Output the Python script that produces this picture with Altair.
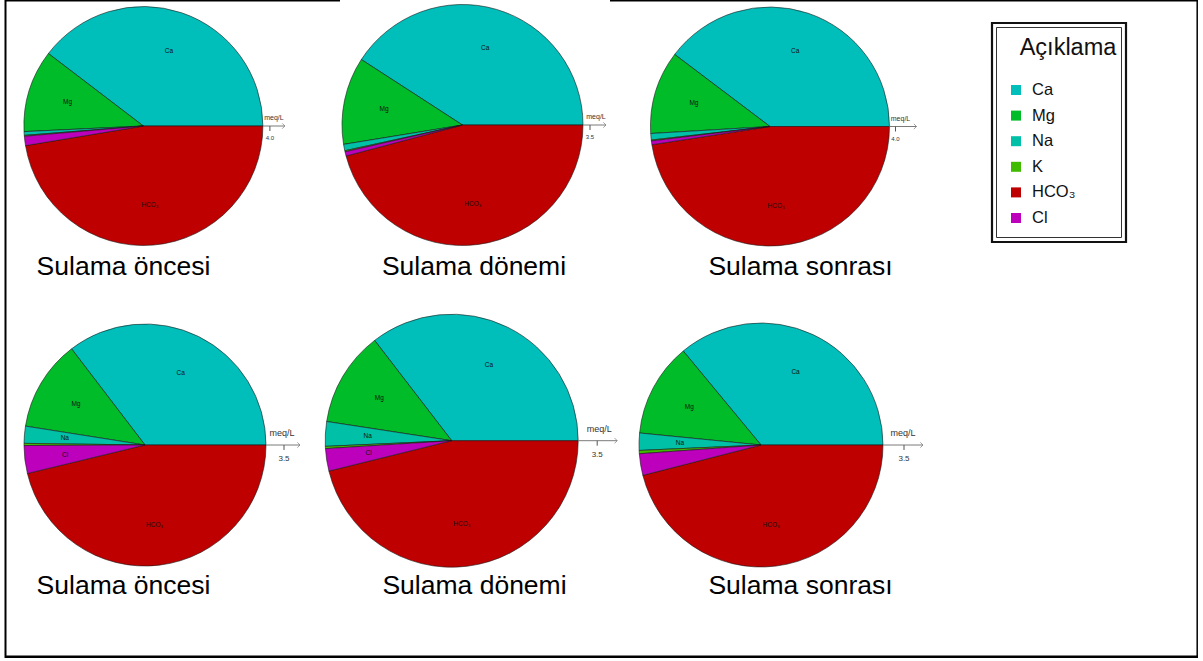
import altair as alt
import pandas as pd

# ---------------- data ----------------
panels = ["TL", "TM", "TR", "BL", "BM", "BR"]
panel_col = [0, 1, 2, 0, 1, 2]
panel_row = [0, 0, 0, 1, 1, 1]
captions = ["Sulama öncesi", "Sulama dönemi", "Sulama sonrası",
            "Sulama öncesi", "Sulama dönemi", "Sulama sonrası"]
scale_labels = ["4.0", "3.5", "4.0", "3.5", "3.5", "3.5"]

ions = ["Ca", "Mg", "Na", "K", "HCO₃", "Cl"]          # legend order
ion_colors = ["#00BEBA", "#00BC28", "#00C0A8", "#40BC00", "#BE0000", "#BC00BC"]
draw_order = ["HCO₃", "Cl", "K", "Na", "Mg", "Ca"]     # clockwise from 3 o'clock

# meq/L per panel (TL, TM, TR, BL, BM, BR)
ca = [3.17, 2.86, 3.18, 2.48, 2.48, 2.52]
mg = [0.89, 0.82, 0.90, 0.85, 0.85, 0.87]
na = [0.04, 0.06, 0.07, 0.16, 0.22, 0.16]
k = [0.01, 0.01, 0.01, 0.02, 0.02, 0.03]
hco3 = [3.79, 3.21, 3.81, 3.24, 3.23, 3.22]
cl = [0.10, 0.04, 0.04, 0.26, 0.20, 0.20]

labelled = {
    "TL": ["Ca", "Mg", "HCO₃"],
    "TM": ["Ca", "Mg", "HCO₃"],
    "TR": ["Ca", "Mg", "HCO₃"],
    "BL": ["Ca", "Mg", "Na", "Cl", "HCO₃"],
    "BM": ["Ca", "Mg", "Na", "Cl", "HCO₃"],
    "BR": ["Ca", "Mg", "Na", "HCO₃"],
}

series = {"Ca": ca, "Mg": mg, "Na": na, "K": k, "HCO₃": hco3, "Cl": cl}
rows = []
for i, p in enumerate(panels):
    for ion in ions:
        rows.append({
            "panel": p, "col": panel_col[i], "row": panel_row[i],
            "ion": ion, "value": series[ion][i],
            "ord": draw_order.index(ion),
            "lab": ion in labelled[p],
        })
df = pd.DataFrame(rows)
df_panel = pd.DataFrame({"panel": panels, "col": panel_col, "row": panel_row,
                         "caption": captions, "slab": scale_labels})
df_leg = pd.DataFrame({"ion": ions, "li": list(range(len(ions)))})

# ---------------- layout / style ----------------
FONT = "Liberation Sans"
XS = alt.Scale(domain=[0, 2], range=[144, 766], nice=False, zero=False)
YS = alt.Scale(domain=[0, 1], range=[126, 443], nice=False, zero=False)
TS = alt.Scale(domain=[0, 1], range=[1.5707963, 7.8539816])
CS = alt.Scale(domain=ions, range=ion_colors)
LS = alt.Scale(domain=[0, 5], range=[90, 218], nice=False, zero=False)

lay = {
    #     dx    dy    r     tick end  meq  capdx
    "TL": (-0.6, 0.0, 119.5, 7, 22, 11, -20.5),
    "TM": (7.5, -1.0, 120.5, 7, 23, 13, 19.0),
    "TR": (4.0, 0.5, 119.5, 6, 27, 11, 34.5),
    "BL": (1.0, 2.0, 121.0, 18, 34, 16, -20.5),
    "BM": (-3.3, -2.3, 126.5, 19, 39, 21, 19.5),
    "BR": (-5.0, 2.0, 122.0, 21, 40, 20, 34.5),
}

X = alt.X("col:Q", scale=XS, axis=None)
Y = alt.Y("row:Q", scale=YS, axis=None)

layers = []
for i, p in enumerate(panels):
    dx, dy, r, tick, end, meq, capdx = lay[p]
    top = panel_row[i] == 0
    afs = 6.5 if top else 8.5
    meq_dy = -8 if top else -12
    lab_dy = 12 if top else 14
    cap_dy = 141 if top else 143

    base = (alt.Chart(df)
            .transform_filter(alt.datum.panel == p)
            .transform_joinaggregate(total="sum(value)")
            .transform_window(cum="sum(value)", sort=[alt.SortField("ord")], frame=[None, 0])
            .transform_calculate(
                t0="(datum.cum - datum.value) / datum.total",
                t1="datum.cum / datum.total",
                tm="(datum.cum - datum.value / 2) / datum.total"))

    arcs = base.mark_arc(xOffset=dx, yOffset=dy, stroke="#1a1a1a", strokeWidth=0.6).encode(
        x=X, y=Y,
        theta=alt.Theta("t0:Q", scale=TS, stack=None),
        theta2="t1:Q",
        radius=alt.value(r),
        color=alt.Color("ion:N", scale=CS, legend=None),
    )
    labels = base.transform_filter("datum.lab").mark_text(
        xOffset=dx, yOffset=dy, fontSize=6.5, font=FONT, color="#111",
        align="center", baseline="middle").encode(
        x=X, y=Y,
        theta=alt.Theta("tm:Q", scale=TS, stack=None),
        radius=alt.value(0.665 * r),
        text="ion:N",
    )

    pb = alt.Chart(df_panel).transform_filter(alt.datum.panel == p)
    ax_line = pb.mark_rule(xOffset=dx + r, x2Offset=dx + r + end, yOffset=dy,
                           color="#7a7a7a", strokeWidth=1).encode(
        x=X, x2=alt.X2("col:Q"), y=Y)
    ax_head = pb.mark_point(shape="M-1,-1L0,0L-1,1", filled=False, size=28,
                            stroke="#7a7a7a", strokeWidth=1,
                            xOffset=dx + r + end, yOffset=dy).encode(x=X, y=Y)
    ax_tick = pb.mark_rule(xOffset=dx + r + tick, yOffset=dy, y2Offset=dy + 5,
                           color="#555", strokeWidth=1).encode(
        x=X, y=Y, y2=alt.Y2("row:Q"))
    ax_lab = pb.mark_text(xOffset=dx + r + tick, yOffset=dy + lab_dy, fontSize=afs - 0.5,
                          font=FONT, color="#333", baseline="middle").encode(
        x=X, y=Y, text="slab:N")
    ax_unit = pb.mark_text(xOffset=dx + r + meq, yOffset=dy + meq_dy, fontSize=afs + 0.5,
                           font=FONT, color="#333", baseline="middle",
                           text="meq/L").encode(x=X, y=Y)
    cap = pb.mark_text(xOffset=capdx, yOffset=cap_dy, fontSize=26.5, font=FONT,
                       color="black", align="center", baseline="middle").encode(
        x=X, y=Y, text="caption:N")
    layers += [arcs, labels, ax_line, ax_head, ax_tick, ax_lab, ax_unit, cap]

# ---------------- legend ----------------
one = alt.Chart(pd.DataFrame({"a": [0]}))
box_outer = one.mark_rect(fill=None, stroke="#111", strokeWidth=2.2).encode(
    x=alt.value(992), x2=alt.value(1126), y=alt.value(23), y2=alt.value(242))
box_inner = one.mark_rect(fill=None, stroke="#333", strokeWidth=1).encode(
    x=alt.value(996.5), x2=alt.value(1121.5), y=alt.value(27.5), y2=alt.value(237.5))
leg_title = one.mark_text(fontSize=23.5, font=FONT, color="#111", align="center",
                          baseline="middle", text="Açıklama").encode(
    x=alt.value(1068), y=alt.value(48))
LY = alt.Y("li:Q", scale=LS, axis=None)
leg_sym = alt.Chart(df_leg).mark_square(size=100, opacity=1).encode(
    x=alt.value(1016), y=LY, color=alt.Color("ion:N", scale=CS, legend=None))
leg_txt = alt.Chart(df_leg).mark_text(align="left", baseline="middle", fontSize=16.5,
                                      font=FONT, color="#111").encode(
    x=alt.value(1032), y=LY, text="ion:N")

# ---------------- frame ----------------
frame = [
    one.mark_rule(color="black", strokeWidth=2).encode(
        x=alt.value(5.5), y=alt.value(0), y2=alt.value(658)),
    one.mark_rule(color="black", strokeWidth=2.5).encode(
        x=alt.value(5), x2=alt.value(1198), y=alt.value(656.8)),
    one.mark_rule(color="black", strokeWidth=1.5).encode(
        x=alt.value(1197.2), y=alt.value(0), y2=alt.value(658)),
    one.mark_rule(color="black", strokeWidth=1.5).encode(
        x=alt.value(5), x2=alt.value(340), y=alt.value(0.7)),
    one.mark_rule(color="black", strokeWidth=1.5).encode(
        x=alt.value(610), x2=alt.value(1198), y=alt.value(0.7)),
]

chart = (alt.layer(*layers, box_outer, box_inner, leg_title, leg_sym, leg_txt, *frame)
         .resolve_scale(y="independent")
         .properties(width=1203, height=661, padding=0,
                     autosize=alt.AutoSizeParams(type="none"),
                     background="white")
         .configure_view(stroke=None))

chart.save("out.html", embed_options={"renderer": "svg", "actions": False})
